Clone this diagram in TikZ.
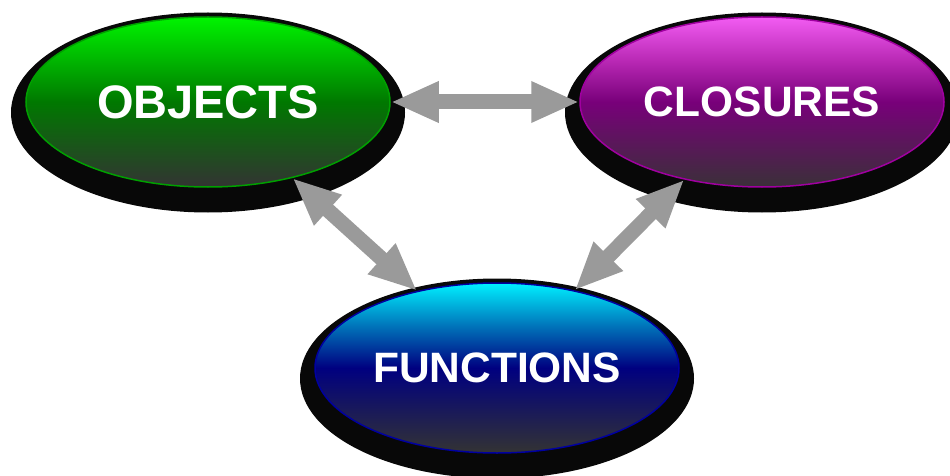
\documentclass[tikz,border=0pt]{standalone}
\usepackage{fontspec}
\setmainfont{Liberation Sans}
\usetikzlibrary{arrows.meta,shapes.geometric}
\definecolor{shadowblack}{HTML}{080808}
\definecolor{arrowgray}{HTML}{9A9A9A}
\definecolor{basegray}{HTML}{333333}
\definecolor{gtop}{HTML}{00F400}
\definecolor{gupper}{HTML}{00B400}
\definecolor{gmid}{HTML}{007800}
\definecolor{gedge}{HTML}{00A000}
\definecolor{ptop}{HTML}{F25CF2}
\definecolor{pupper}{HTML}{B828B4}
\definecolor{pmid}{HTML}{78007A}
\definecolor{pbottom}{HTML}{3A3038}
\definecolor{pedge}{HTML}{A000A0}
\definecolor{btop}{HTML}{00F0FF}
\definecolor{bupper}{HTML}{0070B8}
\definecolor{bmid}{HTML}{000080}
\definecolor{bedge}{HTML}{0000A0}
\pgfdeclareverticalshading{objshade}{100bp}{color(0bp)=(basegray); color(25bp)=(basegray); color(50bp)=(gmid); color(62bp)=(gupper); color(75bp)=(gtop); color(100bp)=(gtop)}
\pgfdeclareverticalshading{closhade}{100bp}{color(0bp)=(pbottom); color(25bp)=(pbottom); color(50bp)=(pmid); color(62bp)=(pupper); color(75bp)=(ptop); color(100bp)=(ptop)}
\pgfdeclareverticalshading{funshade}{100bp}{color(0bp)=(basegray); color(25bp)=(basegray); color(50bp)=(bmid); color(62bp)=(bupper); color(75bp)=(btop); color(100bp)=(btop)}
\begin{document}
\begin{tikzpicture}[x=1pt,y=-1pt,
  blob/.style={ellipse, minimum width=364pt, minimum height=170pt, inner sep=0pt,
    line width=1.5pt, text=white},
  shad/.style={fill=shadowblack},
  tip/.style={},
  link/.style={draw=arrowgray, line width=15pt,
    {Triangle[length=48pt,width=38pt]}-{Triangle[length=48pt,width=38pt]}}]
\useasboundingbox (0,0) rectangle (950,476);
\coordinate (objc) at (208,102);
\coordinate (cloc) at (762,102);
\coordinate (func) at (497,368);
% shadows
\fill[shad] ([yshift=-10.5pt]objc) ellipse [x radius=197pt, y radius=100pt];
\fill[shad] ([yshift=-10.5pt]cloc) ellipse [x radius=197pt, y radius=100pt];
\fill[shad] ([yshift=-10.5pt]func) ellipse [x radius=197pt, y radius=100pt];
% nodes
\node[blob, shading=objshade, draw=gedge, font=\bfseries\fontsize{47}{47}\selectfont] (obj) at (objc) {OBJECTS};
\node[blob, shading=closhade, draw=pedge, font=\bfseries\fontsize{42.5}{42.5}\selectfont] (clo) at (cloc) {CLOSURES};
\node[blob, shading=funshade, draw=bedge, font=\bfseries\fontsize{42.5}{42.5}\selectfont] (fun) at (func) {FUNCTIONS};
% connectors
\draw[link] (obj.east) -- (clo.west);
\draw[link] (obj.-42.5) -- (fun.136);
\draw[link] (clo.225) -- (fun.45);
\end{tikzpicture}
\end{document}
